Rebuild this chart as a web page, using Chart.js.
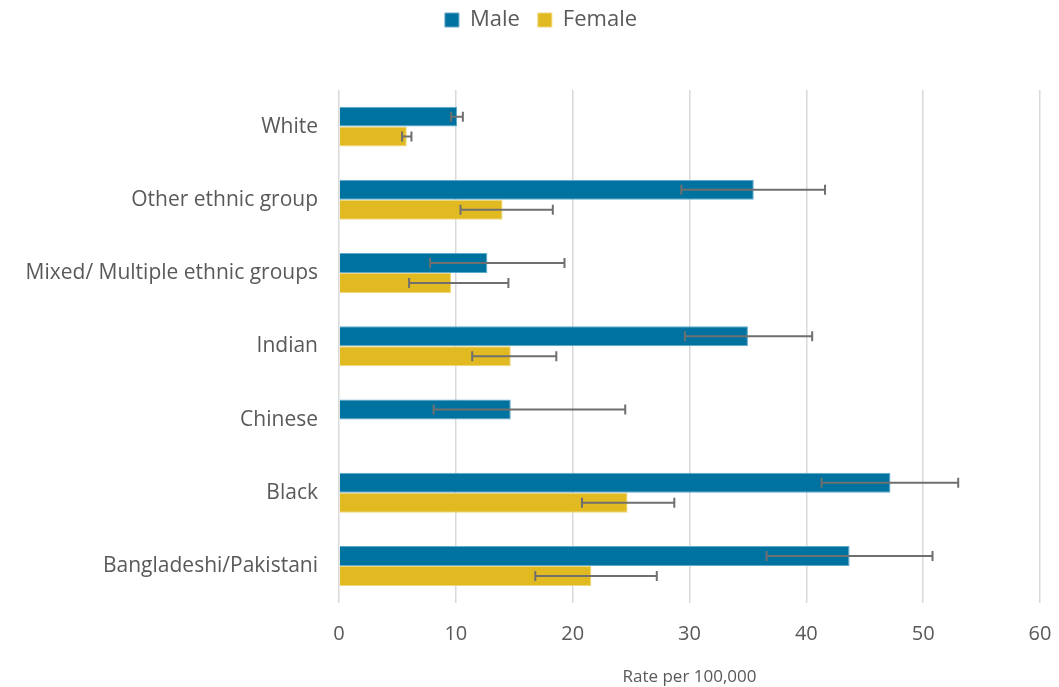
<!DOCTYPE html>
<html>
<head>
<meta charset="utf-8">
<script src="https://cdn.jsdelivr.net/npm/chart.js@4"></script>
<style>
  html, body { margin: 0; padding: 0; background: #fff; }
  #wrap { width: 1059px; height: 687px; }
</style>
</head>
<body>
<div id="wrap"><canvas id="rateChart"></canvas></div>
<script>
const groups = ['White', 'Other ethnic group', 'Mixed/ Multiple ethnic groups', 'Indian', 'Chinese', 'Black', 'Bangladeshi/Pakistani'];
const maleRate = [10.1, 35.5, 12.7, 35.0, 14.7, 47.2, 43.7];
const maleLow = [9.6, 29.3, 7.8, 29.6, 8.1, 41.3, 36.6];
const maleHigh = [10.6, 41.6, 19.3, 40.5, 24.5, 53.0, 50.8];
const femaleRate = [5.8, 14.0, 9.6, 14.7, null, 24.7, 21.6];
const femaleLow = [5.4, 10.4, 6.0, 11.4, null, 20.8, 16.8];
const femaleHigh = [6.2, 18.3, 14.5, 18.6, null, 28.7, 27.2];
const xTicks = [0, 10, 20, 30, 40, 50, 60];

const textColor = '#595959';
const fontFamily = "'Open Sans', Arial, sans-serif";

// whiskers for the confidence intervals
const errorBars = {
    id: 'errorBars',
    afterDatasetsDraw(chart) {
        const ctx = chart.ctx;
        const x = chart.scales.x;
        const ranges = [[maleLow, maleHigh], [femaleLow, femaleHigh]];
        ctx.save();
        ctx.strokeStyle = '#6f6f6f';
        ctx.lineWidth = 2;
        ranges.forEach((r, di) => {
            const meta = chart.getDatasetMeta(di);
            meta.data.forEach((bar, i) => {
                if (r[0][i] == null) return;
                const x1 = x.getPixelForValue(r[0][i]);
                const x2 = x.getPixelForValue(r[1][i]);
                const y = bar.y;
                ctx.beginPath();
                ctx.moveTo(x1, y); ctx.lineTo(x2, y);
                ctx.moveTo(x1, y - 5); ctx.lineTo(x1, y + 5);
                ctx.moveTo(x2, y - 5); ctx.lineTo(x2, y + 5);
                ctx.stroke();
            });
        });
        ctx.restore();
    }
};

// extra gap under the legend, and nudge it a bit right of centre
const legendSpace = {
    id: 'legendSpace',
    beforeInit(chart) {
        const fit = chart.legend.fit;
        chart.legend.fit = function () {
            fit.bind(chart.legend)();
            this.height += 49;
        };
    },
    afterLayout(chart) {
        chart.legend.left += 21;
        chart.legend.right += 21;
    }
};

new Chart(document.getElementById('rateChart'), {
    type: 'bar',
    data: {
        labels: groups,
        datasets: [
            {
                label: 'Male',
                data: maleRate,
                backgroundColor: '#0072a0',
                borderColor: '#5fa9cc',
                borderWidth: 1,
                barPercentage: 1,
                categoryPercentage: 0.545
            },
            {
                label: 'Female',
                data: femaleRate,
                backgroundColor: '#e1ba22',
                borderColor: '#f0d67a',
                borderWidth: 1,
                barPercentage: 1,
                categoryPercentage: 0.545
            }
        ]
    },
    options: {
        indexAxis: 'y',
        responsive: true,
        maintainAspectRatio: false,
        animation: false,
        layout: { padding: { left: 0, right: 19, top: -9, bottom: 0 } },
        plugins: {
            legend: {
                position: 'top',
                labels: {
                    color: textColor,
                    font: { family: fontFamily, size: 22 },
                    boxWidth: 14,
                    boxHeight: 14,
                    padding: 18
                }
            },
            tooltip: { enabled: false }
        },
        scales: {
            x: {
                min: 0,
                max: 60,
                afterBuildTicks(scale) {
                    scale.ticks = xTicks.map(v => ({ value: v }));
                },
                afterFit(scale) {
                    scale.paddingLeft = 0;
                    scale.paddingRight = 0;
                },
                grid: { color: '#d9d9d9', lineWidth: 1.5, drawTicks: false },
                border: { display: false },
                ticks: {
                    color: textColor,
                    font: { family: fontFamily, size: 20 },
                    padding: 20
                },
                title: {
                    display: true,
                    text: 'Rate per 100,000',
                    color: textColor,
                    font: { family: fontFamily, size: 17 },
                    padding: { top: 0, bottom: 0 }
                }
            },
            y: {
                afterFit(scale) { scale.width = 339; },
                grid: { display: false },
                border: { display: false },
                ticks: {
                    color: textColor,
                    font: { family: fontFamily, size: 21 },
                    padding: 13
                }
            }
        }
    },
    plugins: [errorBars, legendSpace]
});
</script>
</body>
</html>
